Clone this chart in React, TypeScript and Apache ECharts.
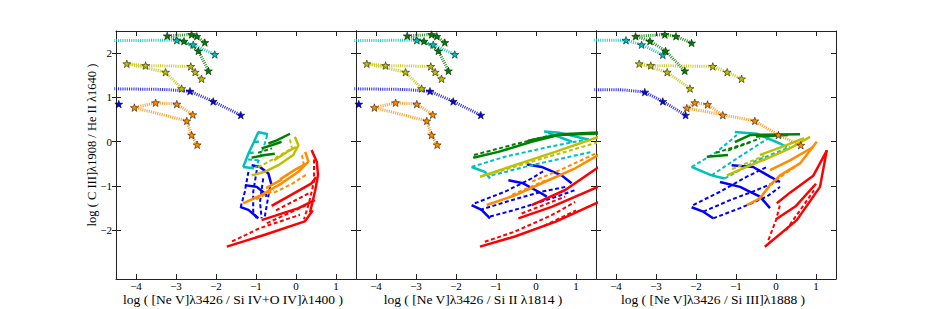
import React, { useEffect, useRef } from "react";
import * as echarts from "echarts";

type P = [number, number];
type L = P[];

// ---------- axes ----------
const xTickValues = [-4, -3, -2, -1, 0, 1];
const yTickValues = [-2, -1, 0, 1, 2];
const xRange: P = [-4.5, 1.5];
const yRange: P = [-3.1, 2.5];
const xTitles = [
  "log ( [Ne V]λ3426 / Si IV+O IV]λ1400 )",
  "log ( [Ne V]λ3426 / Si II λ1814 )",
  "log ( [Ne V]λ3426 / Si III]λ1888 )",
];
const yTitle = "log ( C III]λ1908 / He II λ1640 )";

// ---------- star tracks, panels 1 & 2 ----------
const cyanLeadA: L = [[-5, 2.28], [-3.4, 2.29]];
const cyanStarsA: L = [[-2.98, 2.29], [-2.57, 2.19], [-2.03, 1.97]];
const greenStarsA: L = [[-2.28, 2.24], [-2.48, 2.38], [-2.61, 2.42], [-3.22, 2.39], [-2.8, 2.27], [-2.44, 2.05], [-2.19, 1.6]];
const yellowStarsA: L = [[-2.36, 1.42], [-2.52, 1.57], [-2.63, 1.7], [-3.76, 1.72], [-4.23, 1.76], [-3.26, 1.57], [-2.86, 1.2]];
const blueLeadA: L = [[-5, 1.2], [-3.3, 1.18]];
const blueStarsA: L = [[-2.65, 1.14], [-2.07, 0.91], [-1.38, 0.6]];
const blueLoneA: L = [[-4.43, 0.85]];
const orangeStarsA: L = [[-2.58, 0.61], [-2.98, 0.85], [-3.51, 0.88], [-4.04, 0.77], [-2.73, 0.47], [-2.61, 0.15], [-2.47, -0.07]];

// ---------- star tracks, panel 3 ----------
const cyanLeadC: L = [[-5, 2.29], [-4.1, 2.29]];
const cyanStarsC: L = [[-3.75, 2.29], [-3.36, 2.19], [-2.83, 1.96]];
const greenStarsC: L = [[-2.11, 2.23], [-2.5, 2.38], [-2.78, 2.42], [-3.51, 2.38], [-3.15, 2.27], [-2.76, 2.05], [-2.28, 1.6]];
const yellowStarsC: L = [[-0.86, 1.42], [-1.22, 1.57], [-1.58, 1.7], [-3.13, 1.72], [-3.42, 1.76], [-2.72, 1.57], [-2.15, 1.2]];
const blueLeadC: L = [[-5, 1.18], [-3.8, 1.17]];
const blueStarsC: L = [[-3.28, 1.12], [-2.83, 0.91], [-2.26, 0.6]];
const orangeStarsC: L = [[-1.33, 0.6], [-1.71, 0.84], [-2.03, 0.88], [-2.23, 0.76], [-0.53, 0.47], [0.06, 0.15], [0.62, -0.08]];

// ---------- model grids, panel 1 ----------
const redSolidA: L[] = [
  [[-1.73, -2.37], [-0.78, -2.1], [0.22, -1.8], [0.42, -1.55]],
  [[-0.86, -1.77], [0.06, -1.5], [0.47, -1.32]],
  [[-0.61, -1.45], [0.39, -0.94], [0.5, -0.8]],
  [[0.39, -0.19], [0.52, -0.45], [0.55, -0.75], [0.48, -1.1], [0.35, -1.6]],
];
const redDashA: L[] = [
  [[-1.6, -2.25], [-0.9, -1.95], [0.1, -1.65]],
  [[-0.73, -1.84], [0.27, -1.43]],
  [[-0.5, -1.55], [0.35, -1.15]],
  [[0.45, -0.4], [0.45, -0.9], [0.32, -1.4], [0.2, -1.75]],
];
const orangeSolidA: L[] = [
  [[0.23, -0.23], [0.31, -0.45], [0.06, -0.68], [-0.36, -0.94], [-0.86, -1.2], [-1.32, -1.39]],
  [[-0.4, -0.85], [0.0, -0.62], [0.25, -0.5]],
  [[-0.75, -1.05], [-0.35, -0.85]],
];
const orangeDashA: L[] = [
  [[-0.55, -1.15], [-0.1, -0.95], [0.3, -0.72]],
  [[-1.0, -1.3], [-0.55, -1.1]],
  [[0.15, -0.3], [0.2, -0.55]],
];
const yellowSolidA: L[] = [
  [[-0.03, 0.11], [0.06, -0.08], [-0.07, -0.3], [-0.44, -0.53], [-0.78, -0.68], [-1.11, -0.76]],
  [[-0.55, -0.42], [-0.2, -0.22], [0.0, -0.12]],
];
const yellowDashA: L[] = [
  [[-0.95, -0.58], [-0.5, -0.36], [-0.12, -0.16]],
  [[-0.15, 0.05], [-0.1, -0.15]],
];
const blueSolidA: L[] = [
  [[-1.11, -0.53], [-0.9, -0.57], [-0.69, -0.72], [-0.61, -0.98]],
  [[-1.28, -0.98], [-0.98, -1.02], [-0.78, -1.17], [-0.73, -1.24]],
  [[-1.4, -1.47], [-1.19, -1.54], [-0.94, -1.73]],
];
const blueDashA: L[] = [
  [[-1.19, -0.68], [-1.28, -1.13], [-1.38, -1.47]],
  [[-0.98, -0.64], [-1.07, -1.13], [-1.07, -1.58], [-0.98, -1.73]],
  [[-0.82, -0.83], [-0.9, -1.36], [-0.86, -1.73]],
  [[-0.65, -1.02], [-0.73, -1.43], [-0.78, -1.69]],
];
const cyanSolidA: L[] = [
  [[-0.94, 0.22], [-1.05, 0.0], [-1.18, -0.25], [-1.32, -0.57]],
  [[-0.95, 0.22], [-0.7, 0.17]],
  [[-1.32, -0.57], [-1.05, -0.6]],
  [[-1.05, 0.0], [-0.93, 0.0]],
  [[-1.18, -0.25], [-1.06, -0.25]],
];
const cyanDashA: L[] = [
  [[-0.72, 0.15], [-0.8, -0.1], [-0.9, -0.35], [-1.0, -0.58]],
  [[-1.2, -0.4], [-0.95, -0.42]],
];
const greenSolidA: L[] = [
  [[-0.69, -0.04], [-0.48, 0.03], [-0.15, 0.18]],
  [[-1.11, -0.36], [-0.78, -0.3], [-0.53, -0.27]],
  [[-0.86, -0.15], [-0.61, -0.08], [-0.36, 0.0]],
];
const greenDashA: L[] = [[[-0.95, -0.25], [-0.6, -0.15]]];

// ---------- model grids, panel 2 ----------
const redSolidB: L[] = [
  [[-1.4, -2.37], [-0.53, -2.14], [0.48, -1.81], [1.6, -1.35]],
  [[-0.44, -1.73], [0.39, -1.47], [1.6, -1.0]],
  [[-0.11, -1.43], [0.73, -1.09], [1.6, -0.55]],
];
const redDashB: L[] = [
  [[-1.28, -2.26], [-0.53, -2.03], [0.39, -1.66], [0.98, -1.36]],
  [[-0.36, -1.62], [0.73, -1.24]],
  [[0.2, -1.9], [1.0, -1.55]],
];
const orangeSolidB: L[] = [[[-1.23, -1.43], [-0.53, -1.21], [0.31, -0.87], [0.98, -0.6], [1.6, -0.28]]];
const orangeDashB: L[] = [
  [[-0.1, -0.9], [0.7, -0.6], [1.6, -0.22]],
  [[-0.6, -1.2], [0.3, -0.85]],
];
const yellowSolidB: L[] = [[[-1.4, -0.79], [-0.53, -0.53], [0.48, -0.23], [1.6, 0.12]]];
const yellowDashB: L[] = [[[-1.2, -0.75], [0.0, -0.42], [1.6, 0.0]]];
const blueSolidB: L[] = [
  [[-0.23, -0.51], [0.14, -0.57], [0.64, -0.76], [0.89, -0.94]],
  [[-0.69, -0.87], [-0.32, -0.94], [0.14, -1.17], [0.27, -1.24]],
  [[-1.61, -1.43], [-1.36, -1.54], [-1.15, -1.73]],
];
const blueDashB: L[] = [
  [[-1.53, -1.39], [-0.78, -1.13], [-0.11, -0.83], [0.23, -0.64]],
  [[-1.4, -1.54], [-0.61, -1.32], [0.14, -1.13], [0.73, -1.02]],
  [[-1.15, -1.69], [-0.53, -1.54], [0.39, -1.28], [0.98, -1.09]],
];
const cyanSolidB: L[] = [
  [[-1.61, -0.57], [-1.28, -0.68], [-1.15, -0.83]],
  [[0.2, 0.23], [0.6, 0.2], [1.3, 0.05]],
  [[0.3, 0.2], [0.9, 0.0]],
];
const cyanDashB: L[] = [
  [[-1.61, -0.57], [-0.78, -0.34], [0.31, -0.12], [1.39, 0.07]],
  [[-1.11, -0.76], [-0.11, -0.53], [1.39, -0.23]],
];
const greenSolidB: L[] = [
  [[-1.57, -0.36], [-0.94, -0.23], [-0.11, 0.0], [0.56, 0.15], [1.6, 0.19]],
  [[-0.2, 0.02], [0.6, 0.17], [1.6, 0.21]],
];
const greenDashB: L[] = [[[-1.55, -0.3], [-0.5, -0.05], [0.3, 0.13]]];

// ---------- model grids, panel 3 ----------
const redSolidC: L[] = [
  [[-0.28, -2.37], [0.52, -1.77], [1.1, -1.02], [1.27, -0.19]],
  [[0.02, -1.39], [0.35, -1.15], [0.93, -0.77], [1.27, -0.2]],
  [[0.0, -1.75], [0.5, -1.45], [1.0, -0.95]],
];
const redDashC: L[] = [
  [[-0.19, -2.22], [0.0, -1.77], [0.1, -1.42]],
  [[0.25, -2.0], [0.6, -1.55], [0.95, -1.1]],
];
const orangeSolidC: L[] = [
  [[-0.73, -1.43], [-0.4, -1.28], [-0.15, -0.98], [0.1, -0.76], [0.6, -0.49], [1.02, 0.0]],
  [[-0.15, -0.64], [0.35, -0.42], [0.93, -0.12]],
];
const orangeDashC: L[] = [[[-0.45, -1.3], [-0.05, -0.9], [0.5, -0.55]]];
const yellowSolidC: L[] = [
  [[-1.23, -0.76], [-0.73, -0.57], [-0.23, -0.38], [0.35, -0.15], [0.85, 0.11]],
  [[-0.4, -0.3], [0.2, -0.1], [0.7, 0.08]],
];
const yellowDashC: L[] = [[[-1.1, -0.62], [-0.3, -0.32]]];
const blueSolidC: L[] = [
  [[-2.11, -1.48], [-1.82, -1.58], [-1.57, -1.73]],
  [[-1.4, -0.91], [-0.9, -1.02], [-0.4, -1.24], [-0.15, -1.5]],
  [[-1.11, -0.53], [-0.57, -0.57], [-0.15, -0.79], [0.1, -0.91]],
];
const blueDashC: L[] = [
  [[-2.07, -1.43], [-1.4, -1.13], [-0.73, -0.79], [-0.23, -0.57]],
  [[-1.82, -1.58], [-1.15, -1.32], [-0.48, -1.09], [0.1, -0.87]],
  [[-1.57, -1.73], [-0.9, -1.5], [-0.23, -1.24], [0.1, -1.02]],
];
const cyanSolidC: L[] = [
  [[-2.11, -0.57], [-1.61, -0.76], [-1.28, -0.83]],
  [[-1.03, 0.22], [-0.48, 0.18], [0.1, -0.04], [0.27, -0.12]],
];
const cyanDashC: L[] = [
  [[-2.11, -0.57], [-1.48, -0.23], [-0.98, 0.15]],
  [[-1.61, -0.76], [-0.98, -0.38], [-0.4, -0.04], [-0.07, 0.15]],
  [[-1.28, -0.83], [-0.48, -0.42], [0.35, -0.12]],
];
const greenSolidC: L[] = [
  [[-1.73, -0.34], [-1.2, -0.3]],
  [[-1.03, -0.01], [-0.65, 0.15], [0.6, 0.17]],
  [[-0.5, 0.12], [0.3, 0.15]],
];
const greenDashC: L[] = [
  [[-1.5, -0.25], [-0.9, -0.08], [-0.4, 0.07]],
  [[-1.2, -0.2], [-0.6, 0.0]],
];

const COL = {
  blue: "#0000ff",
  cyan: "#00bfbf",
  green: "#008000",
  yellow: "#bfbf00",
  orange: "#ff8c00",
  red: "#ff0000",
};

const FONT = "Liberation Serif";

function starSymbol() {
  const pts: string[] = [];
  for (let i = 0; i < 10; i++) {
    const a = -Math.PI / 2 + (i * Math.PI) / 5;
    const r = i % 2 === 0 ? 1 : 0.4;
    pts.push(`${(r * Math.cos(a)).toFixed(3)} ${(r * Math.sin(a)).toFixed(3)}`);
  }
  return "path://M" + pts.join(" L") + " Z";
}

export default function App() {
  const ref = useRef<HTMLDivElement>(null);
  useEffect(() => {
    if (!ref.current) return;
    const chart = echarts.init(ref.current, undefined, { renderer: "svg" });
    const STAR = starSymbol();
    const lefts = [116, 356, 596];
    const W = 240;
    const top = 31;
    const H = 248;

    const minus = (v: number) => String(v).replace("-", "\u2212");
    const mkLine = (show: boolean) => ({ show, onZero: false, lineStyle: { color: "#222", width: 1 } });
    const mkTick = (vals: number[], inside: boolean, length: number) => ({
      show: true, inside, length, customValues: vals, lineStyle: { color: "#222", width: 1 },
    });
    const hidden = (gridIndex: number) => ({
      type: "value", gridIndex, min: 1, max: 2, show: false,
      axisLine: { show: false, onZero: false }, axisTick: { show: false }, axisLabel: { show: false }, splitLine: { show: false },
    });

    const grids: any[] = [];
    const xAxis: any[] = [];
    const yAxis: any[] = [];

    // main grids 0..2: bottom x axis + left y axis, carrying the data
    lefts.forEach((l, i) => {
      grids.push({ left: l, top, width: W, height: H, show: false });
      xAxis.push({
        type: "value", gridIndex: i, position: "bottom", min: xRange[0], max: xRange[1],
        axisLine: mkLine(true),
        axisTick: mkTick(xTickValues, true, 5),
        axisLabel: { show: true, customValues: xTickValues, formatter: minus, color: "#000", fontFamily: FONT, fontSize: 11, margin: 1 },
        splitLine: { show: false },
      });
      yAxis.push({
        type: "value", gridIndex: i, position: "left", min: yRange[0], max: yRange[1],
        axisLine: mkLine(true),
        axisTick: mkTick(yTickValues, true, 5),
        axisLabel: { show: i === 0, customValues: yTickValues, formatter: minus, color: "#000", fontFamily: FONT, fontSize: 11, margin: 4 },
        splitLine: { show: false },
      });
    });
    // helper grids: top frame with ticks
    lefts.forEach((l) => {
      const g = grids.length;
      grids.push({ left: l, top, width: W, height: H, show: false });
      xAxis.push({
        type: "value", gridIndex: g, position: "top", min: xRange[0], max: xRange[1],
        axisLine: mkLine(true),
        axisTick: mkTick(xTickValues, true, 5),
        axisLabel: { show: false },
        splitLine: { show: false },
      });
      yAxis.push(hidden(g));
    });
    // helper grids: right frame with ticks
    lefts.forEach((l) => {
      const g = grids.length;
      grids.push({ left: l, top, width: W, height: H, show: false });
      xAxis.push(hidden(g));
      yAxis.push({
        type: "value", gridIndex: g, position: "right", min: yRange[0], max: yRange[1],
        axisLine: mkLine(true),
        axisTick: mkTick(yTickValues, true, 5),
        axisLabel: { show: false },
        splitLine: { show: false },
      });
    });
    // helper grid: outward ticks on the outer left frame
    {
      const g = grids.length;
      grids.push({ left: lefts[0], top, width: W, height: H, show: false });
      xAxis.push(hidden(g));
      yAxis.push({
        type: "value", gridIndex: g, position: "left", min: yRange[0], max: yRange[1],
        axisLine: mkLine(false),
        axisTick: mkTick(yTickValues, false, 4),
        axisLabel: { show: false },
        splitLine: { show: false },
      });
    }

    const series: any[] = [];
    const addGrid = (p: number, lines: L[], color: string, dashed: boolean) => {
      lines.forEach((l) => {
        series.push({
          type: "line", xAxisIndex: p, yAxisIndex: p, data: l, symbol: "none", showSymbol: false,
          silent: true, z: 2, clip: true,
          lineStyle: { color, width: dashed ? 2 : 2.5, type: dashed ? [4, 2.5] : "solid", cap: "butt" },
        });
      });
    };
    const addTrack = (p: number, lead: L, stars: L, color: string) => {
      series.push({
        type: "line", xAxisIndex: p, yAxisIndex: p, data: lead.concat(stars), symbol: "none", showSymbol: false,
        silent: true, z: 3, clip: true,
        lineStyle: { color, width: 3, type: [1.1, 1.1], opacity: 0.8, cap: "butt" },
      });
      series.push({
        type: "scatter", xAxisIndex: p, yAxisIndex: p, data: stars, symbol: STAR, symbolSize: 8, symbolKeepAspect: true,
        silent: true, z: 4,
        itemStyle: { color, borderColor: "#000", borderWidth: 0.5, opacity: 1 },
      });
    };

    const gridSets: [L[], L[], string][][] = [
      [
        [blueSolidA, blueDashA, COL.blue], [cyanSolidA, cyanDashA, COL.cyan], [greenSolidA, greenDashA, COL.green],
        [yellowSolidA, yellowDashA, COL.yellow], [orangeSolidA, orangeDashA, COL.orange], [redSolidA, redDashA, COL.red],
      ],
      [
        [blueSolidB, blueDashB, COL.blue], [cyanSolidB, cyanDashB, COL.cyan], [greenSolidB, greenDashB, COL.green],
        [yellowSolidB, yellowDashB, COL.yellow], [orangeSolidB, orangeDashB, COL.orange], [redSolidB, redDashB, COL.red],
      ],
      [
        [blueSolidC, blueDashC, COL.blue], [cyanSolidC, cyanDashC, COL.cyan], [greenSolidC, greenDashC, COL.green],
        [yellowSolidC, yellowDashC, COL.yellow], [orangeSolidC, orangeDashC, COL.orange], [redSolidC, redDashC, COL.red],
      ],
    ];
    gridSets.forEach((set, p) => {
      set.forEach(([s, d, c]) => {
        addGrid(p, d, c, true);
        addGrid(p, s, c, false);
      });
    });

    [0, 1].forEach((p) => {
      addTrack(p, cyanLeadA, cyanStarsA, COL.cyan);
      addTrack(p, [], greenStarsA, COL.green);
      addTrack(p, [], yellowStarsA, COL.yellow);
      addTrack(p, blueLeadA, blueStarsA, COL.blue);
      addTrack(p, [], blueLoneA, COL.blue);
      addTrack(p, [], orangeStarsA, COL.orange);
    });
    addTrack(2, cyanLeadC, cyanStarsC, COL.cyan);
    addTrack(2, [], greenStarsC, COL.green);
    addTrack(2, [], yellowStarsC, COL.yellow);
    addTrack(2, blueLeadC, blueStarsC, COL.blue);
    addTrack(2, [], orangeStarsC, COL.orange);

    const graphic: any[] = [
      {
        type: "text", x: 92, y: 145, rotation: Math.PI / 2, silent: true,
        style: { text: yTitle, fill: "#000", fontFamily: FONT, fontSize: 12.5, align: "center", verticalAlign: "middle", textAlign: "center", textVerticalAlign: "middle" },
      },
      ...xTitles.map((t, i) => ({
        type: "text", x: lefts[i] + W / 2 - 3, y: 299, silent: true,
        style: { text: t, fill: "#000", fontFamily: FONT, fontSize: 13.5, align: "center", verticalAlign: "middle", textAlign: "center", textVerticalAlign: "middle" },
      })),
    ];

    chart.setOption({
      animation: false,
      backgroundColor: "#ffffff",
      grid: grids,
      xAxis,
      yAxis,
      series,
      graphic,
    });
    return () => chart.dispose();
  }, []);
  return (
    <div
      ref={ref}
      style={{ position: "absolute", left: 0, top: 0, width: 926, height: 309, background: "#fff" }}
    />
  );
}
